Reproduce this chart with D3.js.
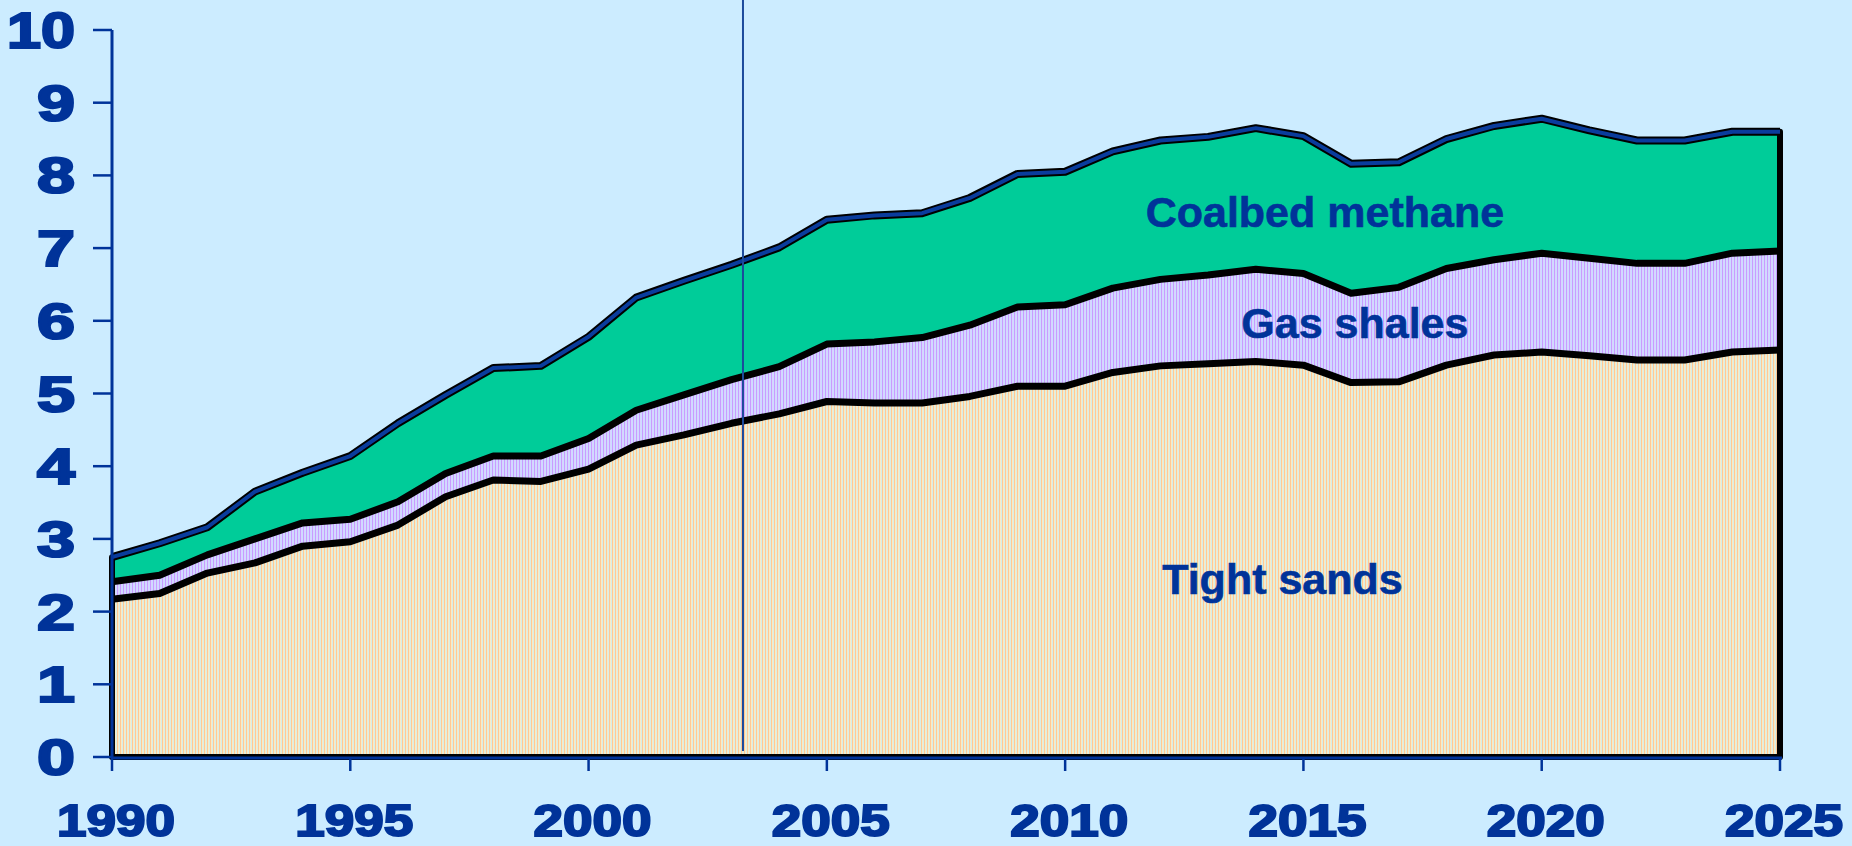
<!DOCTYPE html>
<html>
<head>
<meta charset="utf-8">
<script src="https://cdn.jsdelivr.net/npm/d3@7"></script>
<style>
  html, body { margin: 0; padding: 0; background: #CCECFF; }
  svg { display: block; }
</style>
</head>
<body>
<div id="chart"></div>
<script>
//Data (tcf per year, stacked)
var years = d3.range(1990, 2026);
var tightSands = [2.17, 2.25, 2.53, 2.67, 2.90, 2.96, 3.19, 3.58, 3.81, 3.79, 3.96, 4.29, 4.43, 4.59, 4.72, 4.89, 4.87, 4.87,
    4.96, 5.10, 5.10, 5.29, 5.38, 5.41, 5.44, 5.39, 5.15, 5.16, 5.39, 5.53, 5.57, 5.52, 5.46, 5.46, 5.57, 5.60];
var gasShales = [0.24, 0.25, 0.25, 0.33, 0.32, 0.31, 0.32, 0.32, 0.33, 0.35, 0.42, 0.48, 0.55, 0.60, 0.65, 0.79, 0.84, 0.90,
    0.98, 1.09, 1.12, 1.16, 1.19, 1.22, 1.27, 1.26, 1.23, 1.30, 1.33, 1.31, 1.36, 1.34, 1.33, 1.33, 1.36, 1.36];
var coalbedMethane = [0.34, 0.44, 0.38, 0.65, 0.69, 0.87, 1.08, 1.08, 1.21, 1.24, 1.40, 1.55, 1.57, 1.58, 1.64, 1.71, 1.74, 1.71,
    1.75, 1.83, 1.83, 1.88, 1.91, 1.90, 1.94, 1.89, 1.78, 1.72, 1.78, 1.84, 1.85, 1.76, 1.69, 1.69, 1.67, 1.64];
var yTicks = [0, 1, 2, 3, 4, 5, 6, 7, 8, 9, 10];
var xTicks = [1990, 1995, 2000, 2005, 2010, 2015, 2020, 2025];
var markerYear = 2003.24; //the vertical divider line
var keys = ["tight", "shales", "cbm"];
var labels = [
    {key: "cbm", text: "Coalbed methane", year: 2015.45, value: 7.29},
    {key: "shales", text: "Gas shales", year: 2016.08, value: 5.76},
    {key: "tight", text: "Tight sands", year: 2014.56, value: 2.24}
];

var width = 1852, height = 846;
var blue = "#003399";

var table = years.map(function (y, i) {
    return {year: y, tight: tightSands[i], shales: gasShales[i], cbm: coalbedMethane[i]};
});
var series = d3.stack().keys(keys)(table);

var x = d3.scaleLinear().domain([1990, 2025]).range([112, 1780]);
var y = d3.scaleLinear().domain([0, 10]).range([757, 30]);

var svg = d3.select("#chart").append("svg")
    .attr("width", width)
    .attr("height", height);

svg.append("rect").attr("width", width).attr("height", height).attr("fill", "#CCECFF");

//Vertical stripe patterns like the original fills
var defs = svg.append("defs");
function stripes(id, colors) {
    var p = defs.append("pattern")
        .attr("id", id)
        .attr("patternUnits", "userSpaceOnUse")
        .attr("width", colors.length)
        .attr("height", 10);
    colors.forEach(function (c, i) {
        p.append("rect").attr("x", i).attr("y", 0).attr("width", 1).attr("height", 10).attr("fill", c);
    });
}
stripes("tightFill", ["#FFC994", "#F8ECC8", "#D6EEE8"]);
stripes("shaleFill", ["#C89CFF", "#D8D4FF", "#CCDDFF"]);

var fills = {tight: "url(#tightFill)", shales: "url(#shaleFill)", cbm: "#00CC99"};

var area = d3.area()
    .x(function (d) { return x(d.data.year); })
    .y0(function (d) { return y(d[0]); })
    .y1(function (d) { return y(d[1]); });

var topLine = d3.line()
    .x(function (d) { return x(d.data.year); })
    .y(function (d) { return y(d[1]); });

svg.append("g").selectAll("path")
    .data(series)
    .enter().append("path")
    .attr("d", area)
    .attr("fill", function (d) { return fills[d.key]; });

//Outline round the whole stack
var total = series[series.length - 1];
svg.append("path")
    .attr("d", area.y0(function () { return y(0); })(total))
    .attr("fill", "none")
    .attr("stroke", "#000")
    .attr("stroke-width", 6)
    .attr("stroke-linejoin", "round");

//Thick black boundaries between layers
svg.append("g").selectAll("path")
    .data(series.slice(0, 2))
    .enter().append("path")
    .attr("d", topLine)
    .attr("fill", "none")
    .attr("stroke", "#000")
    .attr("stroke-width", 7)
    .attr("stroke-linejoin", "round");

//Top edge: blue line with black outline
svg.append("path")
    .attr("d", topLine(total))
    .attr("fill", "none")
    .attr("stroke", "#000")
    .attr("stroke-width", 8)
    .attr("stroke-linejoin", "round");
svg.append("path")
    .attr("d", topLine(total))
    .attr("fill", "none")
    .attr("stroke", "#0A3C9C")
    .attr("stroke-width", 4)
    .attr("stroke-linejoin", "round");

//Divider line
svg.append("line")
    .attr("x1", x(markerYear)).attr("x2", x(markerYear))
    .attr("y1", 0).attr("y2", 751)
    .attr("stroke", "#1C4A9C")
    .attr("stroke-width", 2);

//Axes
var axes = svg.append("g").attr("stroke", blue);
axes.append("line")
    .attr("x1", x(1990)).attr("x2", x(1990))
    .attr("y1", y(10)).attr("y2", y(0) + 1)
    .attr("stroke-width", 3);
axes.append("line")
    .attr("x1", x(1990) - 1).attr("x2", x(2025) + 2)
    .attr("y1", y(0) + 1).attr("y2", y(0) + 1)
    .attr("stroke-width", 3);
axes.selectAll(".yt")
    .data(yTicks)
    .enter().append("line")
    .attr("x1", x(1990) - 19).attr("x2", x(1990))
    .attr("y1", function (d) { return y(d); })
    .attr("y2", function (d) { return y(d); })
    .attr("stroke-width", 2.5);
axes.selectAll(".xt")
    .data(xTicks)
    .enter().append("line")
    .attr("x1", function (d) { return x(d); })
    .attr("x2", function (d) { return x(d); })
    .attr("y1", y(0)).attr("y2", y(0) + 14)
    .attr("stroke-width", 2.5);

//Tick labels: heavy, wide digits
svg.append("g").selectAll("text")
    .data(yTicks)
    .enter().append("text")
    .attr("x", 75)
    .attr("y", function (d) { return y(d) + 18; })
    .attr("text-anchor", "end")
    .attr("font-family", "Liberation Sans, Arial, sans-serif")
    .attr("font-weight", "bold")
    .attr("font-size", 50)
    .attr("fill", blue)
    .attr("stroke", blue)
    .attr("stroke-width", 2.2)
    .attr("textLength", function (d) { return d >= 10 ? 68 : 38; })
    .attr("lengthAdjust", "spacingAndGlyphs")
    .text(function (d) { return d; });

svg.append("g").selectAll("text")
    .data(xTicks)
    .enter().append("text")
    .attr("x", function (d) { return x(d) + 4; })
    .attr("y", 836)
    .attr("text-anchor", "middle")
    .attr("font-family", "Liberation Sans, Arial, sans-serif")
    .attr("font-weight", "bold")
    .attr("font-size", 44)
    .attr("fill", blue)
    .attr("stroke", blue)
    .attr("stroke-width", 2)
    .attr("textLength", 118)
    .attr("lengthAdjust", "spacingAndGlyphs")
    .text(function (d) { return d; });

//Layer names
svg.append("g").selectAll("text")
    .data(labels)
    .enter().append("text")
    .attr("x", function (d) { return x(d.year); })
    .attr("y", function (d) { return y(d.value); })
    .attr("text-anchor", "middle")
    .attr("font-family", "Liberation Sans, Arial, sans-serif")
    .attr("font-weight", "bold")
    .attr("font-size", 43)
    .attr("fill", blue)
    .attr("stroke", blue)
    .attr("stroke-width", 0.6)
    .text(function (d) { return d.text; });
</script>
</body>
</html>
